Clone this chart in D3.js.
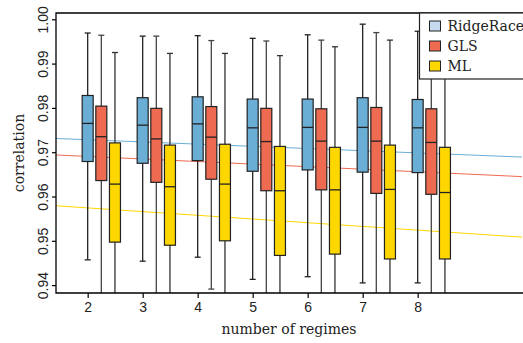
<!DOCTYPE html>
<html>
<head>
<meta charset="utf-8">
<script src="https://cdn.jsdelivr.net/npm/d3@7"></script>
<style>
  body { margin: 0; background: #fff; }
  svg { display: block; }
</style>
</head>
<body>
<div id="chart"></div>
<script>
// regimes on the x axis
var regimes = [2, 3, 4, 5, 6, 7, 8];
var methods = ["RidgeRace", "GLS", "ML"];

// box stats per regime: [whisker low, q1, median, q3, whisker high]
var ridgeRace = [
  [0.9457, 0.9679, 0.9765, 0.9828, 0.9969],
  [0.9454, 0.9675, 0.9761, 0.9823, 0.9962],
  [0.9463, 0.9681, 0.9764, 0.9825, 0.9963],
  [0.9413, 0.9657, 0.9755, 0.9820, 0.9957],
  [0.9419, 0.9660, 0.9756, 0.9820, 0.9965],
  [0.9405, 0.9655, 0.9756, 0.9823, 0.9989],
  [0.9405, 0.9654, 0.9755, 0.9819, 0.9973]
];
var gls = [
  [0.9300, 0.9636, 0.9735, 0.9804, 0.9964],
  [0.9300, 0.9632, 0.9730, 0.9799, 0.9962],
  [0.9391, 0.9639, 0.9734, 0.9803, 0.9952],
  [0.9300, 0.9613, 0.9724, 0.9799, 0.9951],
  [0.9300, 0.9615, 0.9725, 0.9798, 0.9953],
  [0.9300, 0.9607, 0.9725, 0.9801, 0.9970],
  [0.9300, 0.9605, 0.9722, 0.9798, 0.9965]
];
var ml = [
  [0.9300, 0.9497, 0.9628, 0.9721, 0.9925],
  [0.9300, 0.9490, 0.9622, 0.9716, 0.9923],
  [0.9300, 0.9500, 0.9628, 0.9718, 0.9923],
  [0.9300, 0.9467, 0.9613, 0.9713, 0.9918],
  [0.9300, 0.9470, 0.9615, 0.9711, 0.9938],
  [0.9300, 0.9459, 0.9616, 0.9716, 0.9953],
  [0.9300, 0.9459, 0.9609, 0.9711, 0.9950]
];

// fitted trend lines: [intercept, slope] against number of regimes
var trends = [
  [0.9738, -0.000495],
  [0.9702, -0.000577],
  [0.9591, -0.000836]
];

var yTicks = [0.94, 0.95, 0.96, 0.97, 0.98, 0.99, 1.00];

var boxColors = ["#6aaed6", "#ee6a50", "#ffd700"];
var legendColors = ["#c6dbef", "#ee6a50", "#ffd700"];
var whiskerColors = ["#222", "#444", "#333"];

var W = 523, H = 343;
var m = {left: 56, right: 1, top: 13, bottom: 50};

var svg = d3.select("#chart").append("svg")
  .attr("width", W)
  .attr("height", H);

var x = d3.scaleLinear()
  .domain([1.424, 9.897])
  .range([m.left, W - m.right]);

var y = d3.scaleLinear()
  .domain([0.93822, 1.00142])
  .range([H - m.bottom, m.top]);

svg.append("defs").append("clipPath").attr("id", "plotclip")
  .append("rect")
  .attr("x", m.left).attr("y", m.top)
  .attr("width", W - m.right - m.left).attr("height", H - m.bottom - m.top);

var plot = svg.append("g").attr("clip-path", "url(#plotclip)");

// trend lines
var xs = x.domain();
trends.forEach(function(t, i) {
  plot.append("line")
    .attr("x1", x(xs[0])).attr("y1", y(t[0] + t[1] * xs[0]))
    .attr("x2", x(xs[1])).attr("y2", y(t[0] + t[1] * xs[1]))
    .attr("stroke", boxColors[i])
    .attr("stroke-width", 1);
});

// boxes
var series = [ridgeRace, gls, ml];
var offset = 0.248, bw = 11, cap = 3;
series.forEach(function(data, s) {
  var g = plot.append("g");
  data.forEach(function(d, i) {
    var cx = x(regimes[i] + s * offset);
    g.append("line")
      .attr("x1", cx).attr("x2", cx)
      .attr("y1", y(d[0])).attr("y2", y(d[4]))
      .attr("stroke", whiskerColors[s]).attr("stroke-width", 1.3);
    [d[0], d[4]].forEach(function(v) {
      g.append("line")
        .attr("x1", cx - cap).attr("x2", cx + cap)
        .attr("y1", y(v)).attr("y2", y(v))
        .attr("stroke", whiskerColors[s]).attr("stroke-width", 1.3);
    });
    g.append("rect")
      .attr("x", cx - bw / 2).attr("width", bw)
      .attr("y", y(d[3])).attr("height", y(d[1]) - y(d[3]))
      .attr("fill", boxColors[s])
      .attr("stroke", "#222").attr("stroke-width", 1.2);
    g.append("line")
      .attr("x1", cx - bw / 2).attr("x2", cx + bw / 2)
      .attr("y1", y(d[2])).attr("y2", y(d[2]))
      .attr("stroke", "#222").attr("stroke-width", 1.3);
  });
});

// frame
svg.append("path")
  .attr("d", "M" + (W) + "," + m.top + "H" + m.left + "V" + (H - m.bottom) + "H" + W)
  .attr("fill", "none")
  .attr("stroke", "#000")
  .attr("stroke-width", 1.3);

// y axis
var yAxis = svg.append("g")
  .attr("transform", "translate(" + m.left + ",0)")
  .call(d3.axisLeft(y).tickValues(yTicks).tickFormat(d3.format(".2f")).tickSize(4).tickSizeOuter(0));
yAxis.select(".domain").remove();
yAxis.selectAll("line").attr("stroke-width", 1.2);
yAxis.selectAll(".tick text")
  .attr("transform", "rotate(-90)")
  .attr("x", 0)
  .attr("y", -13)
  .attr("dy", "0.35em")
  .style("text-anchor", "middle")
  .style("font-family", "'Liberation Sans', Arial, sans-serif")
  .style("font-size", "14px")
  .style("fill", "#222");

// x axis
var xAxis = svg.append("g")
  .attr("transform", "translate(0," + (H - m.bottom) + ")")
  .call(d3.axisBottom(x).tickValues(regimes).tickFormat(d3.format("d")).tickSize(5).tickSizeOuter(0));
xAxis.select(".domain").remove();
xAxis.selectAll("line").attr("stroke-width", 1.2);
xAxis.selectAll("text")
  .attr("y", 9)
  .style("font-family", "'Liberation Sans', Arial, sans-serif")
  .style("font-size", "14px")
  .style("fill", "#222");

// axis titles
svg.append("text")
  .attr("x", (m.left + W - m.right) / 2)
  .attr("y", 334)
  .attr("text-anchor", "middle")
  .style("font-family", "'DejaVu Serif', serif")
  .style("font-size", "14px")
  .style("fill", "#222")
  .text("number of regimes");

svg.append("text")
  .attr("transform", "translate(24," + ((m.top + H - m.bottom) / 2) + ") rotate(-90)")
  .attr("text-anchor", "middle")
  .style("font-family", "'DejaVu Serif', serif")
  .style("font-size", "14px")
  .style("fill", "#222")
  .text("correlation");

// legend
var lg = svg.append("g").attr("transform", "translate(419.5," + m.top + ")");
lg.append("rect")
  .attr("x", 0).attr("y", 0)
  .attr("width", 120).attr("height", 66)
  .attr("fill", "#fff")
  .attr("stroke", "#222")
  .attr("stroke-width", 1.2);
methods.forEach(function(name, i) {
  var ry = 8 + i * 20;
  lg.append("rect")
    .attr("x", 10).attr("y", ry)
    .attr("width", 11).attr("height", 10)
    .attr("fill", legendColors[i])
    .attr("stroke", "#222")
    .attr("stroke-width", 1);
  lg.append("text")
    .attr("x", 28).attr("y", ry + 10)
    .style("font-family", "'DejaVu Serif', serif")
    .style("font-size", "14px")
    .style("fill", "#222")
    .text(name);
});
</script>
</body>
</html>
